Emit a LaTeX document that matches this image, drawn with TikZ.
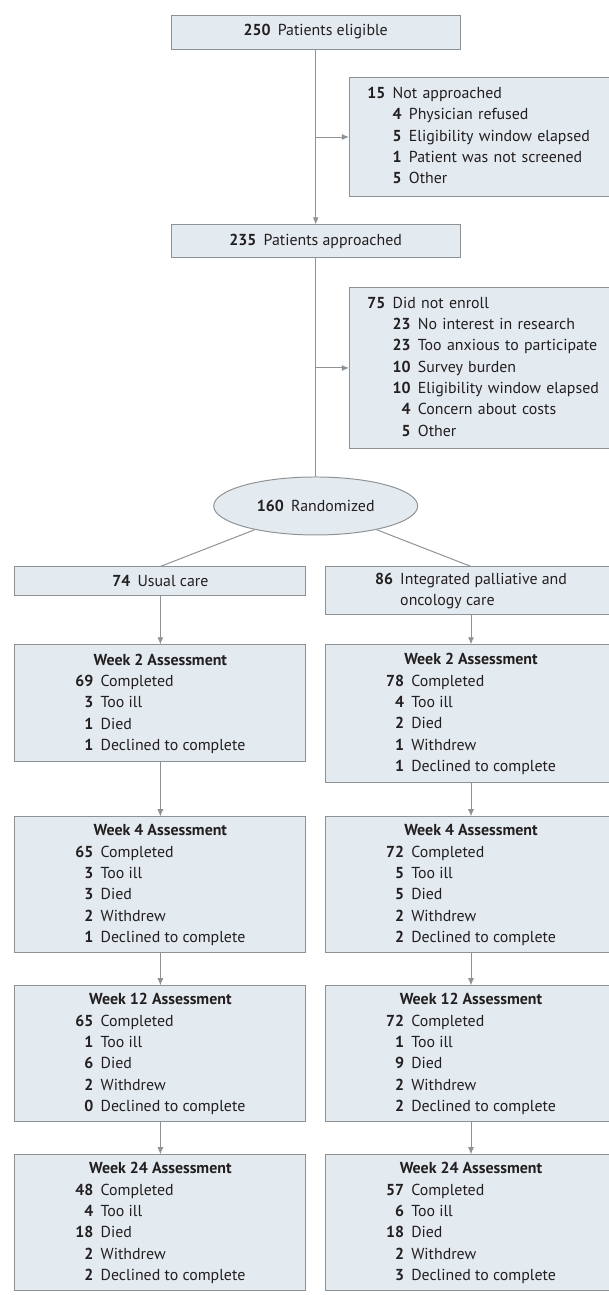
\documentclass[tikz,border=0pt]{standalone}
\usepackage{fontspec}
\setmainfont{PT Sans}
\usepackage{xcolor}
\usetikzlibrary{shapes.geometric, arrows.meta, positioning}

\definecolor{boxfill}{HTML}{E4EBF0}
\definecolor{boxline}{HTML}{8F9295}
\definecolor{inkgray}{HTML}{231F20}

\newcommand{\nitem}[2]{\textbf{#1}\hspace{0.18cm}#2}

\begin{document}
\begin{tikzpicture}[
      font=\fontsize{11.3pt}{15.15pt}\selectfont,
      text=inkgray,
      box/.style={draw=boxline, fill=boxfill, rectangle, line width=0.7pt,
          minimum width=7.275cm, inner sep=0pt, align=center},
      sidebox/.style={draw=boxline, fill=boxfill, rectangle, line width=0.7pt,
          text width=5.85cm, inner xsep=0.45cm, inner ysep=0pt, align=left},
      oval/.style={draw=boxline, fill=boxfill, ellipse, line width=0.7pt,
          minimum width=5.1cm, minimum height=1.45cm, inner sep=0pt},
      line/.style={draw=boxline, line width=0.7pt},
      arr/.style={line, -{Latex[length=0.18cm, width=0.15cm]}},
    ]

    \useasboundingbox (-7.8925,0.8) rectangle (7.3325,-31.575);

    % screening and enrollment
    \node[box, minimum width=7.225cm, minimum height=0.85cm] (elig) {\nitem{250}{Patients eligible}};
    \coordinate[below=2.1875cm of elig] (split1);
    \node[sidebox, minimum height=2.975cm, right=0.8325cm of split1] (notappr) {%
      \begin{tabular}{@{}r@{\hspace{0.18cm}}r@{\hspace{0.18cm}}l@{}}
        \textbf{15} & \multicolumn{2}{@{}l@{}}{Not approached}\\
        & \textbf{4} & Physician refused\\
        & \textbf{5} & Eligibility window elapsed\\
        & \textbf{1} & Patient was not screened\\
        & \textbf{5} & Other
      \end{tabular}};
    \node[box, minimum width=7.225cm, minimum height=0.825cm, below=4.375cm of elig] (appr) {\nitem{235}{Patients approached}};
    \coordinate[below=2.7375cm of appr] (split2);
    \node[sidebox, minimum height=4.025cm, right=0.8325cm of split2] (noenr) {%
      \begin{tabular}{@{}r@{\hspace{0.18cm}}r@{\hspace{0.18cm}}l@{}}
        \textbf{75} & \multicolumn{2}{@{}l@{}}{Did not enroll}\\
        & \textbf{23} & No interest in research\\
        & \textbf{23} & Too anxious to participate\\
        & \textbf{10} & Survey burden\\
        & \textbf{10} & Eligibility window elapsed\\
        & \textbf{4} & Concern about costs\\
        & \textbf{5} & Other
      \end{tabular}};
    \node[oval, below=5.45cm of appr] (rand) {\nitem{160}{Randomized}};

    % study arms
    \node[box, minimum height=0.725cm, below=0.775cm of rand, xshift=-3.8825cm] (usual) {\nitem{74}{Usual care}};
    \node[box, minimum height=1.2cm, below=0.775cm of rand, xshift=3.8825cm] (integ) {%
      \begin{tabular}{@{}r@{\hspace{0.18cm}}l@{}}
        \textbf{86} & Integrated palliative and\\
        & oncology care
      \end{tabular}};

    % usual care assessments
    \node[box, minimum height=2.925cm, below=1.2cm of usual] (uw2) {%
      \begin{tabular}{@{}r@{\hspace{0.18cm}}l@{}}
        \multicolumn{2}{@{}c@{}}{\textbf{Week 2 Assessment}}\\
        \textbf{69} & Completed\\
        \textbf{3} & Too ill\\
        \textbf{1} & Died\\
        \textbf{1} & Declined to complete
      \end{tabular}};
    \node[box, minimum height=3.4cm, below=1.35cm of uw2] (uw4) {%
      \begin{tabular}{@{}r@{\hspace{0.18cm}}l@{}}
        \multicolumn{2}{@{}c@{}}{\textbf{Week 4 Assessment}}\\
        \textbf{65} & Completed\\
        \textbf{3} & Too ill\\
        \textbf{3} & Died\\
        \textbf{2} & Withdrew\\
        \textbf{1} & Declined to complete
      \end{tabular}};
    \node[box, minimum height=3.4cm, below=0.8cm of uw4] (uw12) {%
      \begin{tabular}{@{}r@{\hspace{0.18cm}}l@{}}
        \multicolumn{2}{@{}c@{}}{\textbf{Week 12 Assessment}}\\
        \textbf{65} & Completed\\
        \textbf{1} & Too ill\\
        \textbf{6} & Died\\
        \textbf{2} & Withdrew\\
        \textbf{0} & Declined to complete
      \end{tabular}};
    \node[box, minimum height=3.4cm, below=0.8cm of uw12] (uw24) {%
      \begin{tabular}{@{}r@{\hspace{0.18cm}}l@{}}
        \multicolumn{2}{@{}c@{}}{\textbf{Week 24 Assessment}}\\
        \textbf{48} & Completed\\
        \textbf{4} & Too ill\\
        \textbf{18} & Died\\
        \textbf{2} & Withdrew\\
        \textbf{2} & Declined to complete
      \end{tabular}};

    % integrated care assessments
    \node[box, minimum height=3.45cm, below=0.725cm of integ] (iw2) {%
      \begin{tabular}{@{}r@{\hspace{0.18cm}}l@{}}
        \multicolumn{2}{@{}c@{}}{\textbf{Week 2 Assessment}}\\
        \textbf{78} & Completed\\
        \textbf{4} & Too ill\\
        \textbf{2} & Died\\
        \textbf{1} & Withdrew\\
        \textbf{1} & Declined to complete
      \end{tabular}};
    \node[box, minimum height=3.4cm, below=0.825cm of iw2] (iw4) {%
      \begin{tabular}{@{}r@{\hspace{0.18cm}}l@{}}
        \multicolumn{2}{@{}c@{}}{\textbf{Week 4 Assessment}}\\
        \textbf{72} & Completed\\
        \textbf{5} & Too ill\\
        \textbf{5} & Died\\
        \textbf{2} & Withdrew\\
        \textbf{2} & Declined to complete
      \end{tabular}};
    \node[box, minimum height=3.4cm, below=0.8cm of iw4] (iw12) {%
      \begin{tabular}{@{}r@{\hspace{0.18cm}}l@{}}
        \multicolumn{2}{@{}c@{}}{\textbf{Week 12 Assessment}}\\
        \textbf{72} & Completed\\
        \textbf{1} & Too ill\\
        \textbf{9} & Died\\
        \textbf{2} & Withdrew\\
        \textbf{2} & Declined to complete
      \end{tabular}};
    \node[box, minimum height=3.4cm, below=0.8cm of iw12] (iw24) {%
      \begin{tabular}{@{}r@{\hspace{0.18cm}}l@{}}
        \multicolumn{2}{@{}c@{}}{\textbf{Week 24 Assessment}}\\
        \textbf{57} & Completed\\
        \textbf{6} & Too ill\\
        \textbf{18} & Died\\
        \textbf{2} & Withdrew\\
        \textbf{3} & Declined to complete
      \end{tabular}};

    \draw[arr] (elig) -- (appr);
    \draw[arr] (split1) -- (notappr);
    \draw[line] (appr) -- (rand);
    \draw[arr] (split2) -- (noenr);
    \draw[line] (rand) -- (usual.north);
    \draw[line] (rand) -- (integ.north);

    \draw[arr] (usual) -- (uw2);
    \draw[arr] (uw2) -- (uw4);
    \draw[arr] (uw4) -- (uw12);
    \draw[arr] (uw12) -- (uw24);
    \draw[arr] (integ) -- (iw2);
    \draw[arr] (iw2) -- (iw4);
    \draw[arr] (iw4) -- (iw12);
    \draw[arr] (iw12) -- (iw24);

  \end{tikzpicture}
\end{document}
